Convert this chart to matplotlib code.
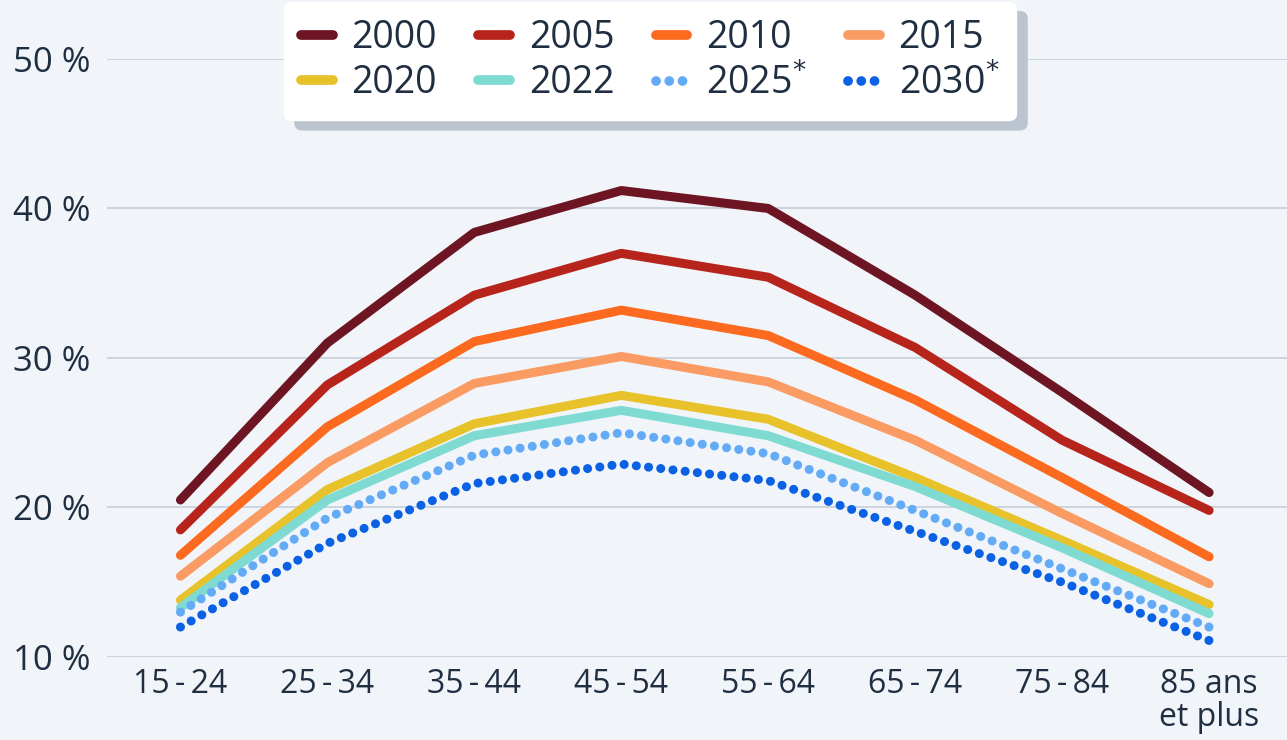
import matplotlib
matplotlib.use('Agg')
import matplotlib.pyplot as plt

# tranches d'âge
ages = ['15\u2009-\u200924', '25\u2009-\u200934', '35\u2009-\u200944', '45\u2009-\u200954',
        '55\u2009-\u200964', '65\u2009-\u200974', '75\u2009-\u200984', '85 ans\net plus']

# valeurs (%)
v2000 = [20.5, 31.0, 38.4, 41.2, 40.0, 34.2, 27.7, 21.0]
v2005 = [18.5, 28.2, 34.2, 37.0, 35.4, 30.7, 24.5, 19.8]
v2010 = [16.8, 25.4, 31.1, 33.2, 31.5, 27.2, 22.0, 16.7]
v2015 = [15.4, 23.0, 28.3, 30.1, 28.4, 24.5, 19.6, 14.9]
v2020 = [13.8, 21.2, 25.6, 27.5, 25.9, 22.0, 17.8, 13.5]
v2022 = [13.3, 20.5, 24.8, 26.5, 24.8, 21.4, 17.3, 12.9]
v2025 = [13.0, 19.3, 23.5, 25.0, 23.6, 19.8, 15.9, 12.0]
v2030 = [12.0, 17.6, 21.6, 22.9, 21.8, 18.4, 15.0, 11.1]

series = [
    ('2000', v2000, '#6d1522', '-'),
    ('2005', v2005, '#b7241c', '-'),
    ('2010', v2010, '#fb6a1e', '-'),
    ('2015', v2015, '#fb9b64', '-'),
    ('2020', v2020, '#e8c22a', '-'),
    ('2022', v2022, '#7fdbd2', '-'),
    ('2025$^{*}$', v2025, '#63abf6', (0, (0.01, 1.35))),
    ('2030$^{*}$', v2030, '#0b61e3', (0, (0.01, 1.35))),
]

bg = '#f1f5f9'
txt = '#1f2e40'
plt.rcParams['font.family'] = ['Open Sans', 'DejaVu Sans']

fig = plt.figure(figsize=(12.87, 7.40), dpi=100, facecolor=bg)
ax = fig.add_axes([0.0831, 0.1122, 0.9169, 0.8081], facecolor=bg)

x = list(range(len(ages)))
lines = []
for name, vals, col, ls in series:
    ln, = ax.plot(x, vals, color=col, lw=6.5, ls=ls, label=name,
                  solid_capstyle='round', dash_capstyle='round',
                  solid_joinstyle='round', clip_on=False)
    lines.append(ln)

ax.set_xlim(-0.5, 7.53)
ax.set_ylim(10, 50)
ax.set_yticks([10, 20, 30, 40, 50])
ax.set_yticklabels(['10 %', '20 %', '30 %', '40 %', '50 %'])
ax.set_xticks(x)
ax.set_xticklabels(ages, linespacing=1.0)
ax.tick_params(axis='y', length=0, pad=12, labelsize=25, labelcolor=txt)
ax.tick_params(axis='x', length=0, pad=8, labelsize=23, labelcolor=txt)
ax.grid(axis='y', color='#c9d1da', lw=1.3)
ax.set_axisbelow(True)
for s in ax.spines.values():
    s.set_visible(False)

# légende remplie ligne par ligne (matplotlib remplit par colonne)
order = [0, 4, 1, 5, 2, 6, 3, 7]
leg = fig.legend([lines[i] for i in order], [series[i][0] for i in order],
                 loc='upper center', bbox_to_anchor=(0.505, 1.0), ncol=4,
                 fontsize=27, frameon=True, fancybox=True, handlelength=0.85,
                 handletextpad=0.5, columnspacing=1.1, labelspacing=0.2,
                 borderpad=0.45, borderaxespad=0.05, framealpha=1,
                 edgecolor='white', facecolor='white',
                 shadow={'color': '#bcc5cf', 'alpha': 1, 'ox': 8, 'oy': -7})
for t in leg.get_texts():
    t.set_color(txt)
for h in leg.legend_handles:
    h.set_linewidth(7)

fig.savefig('out.png', dpi=100, facecolor=bg)
